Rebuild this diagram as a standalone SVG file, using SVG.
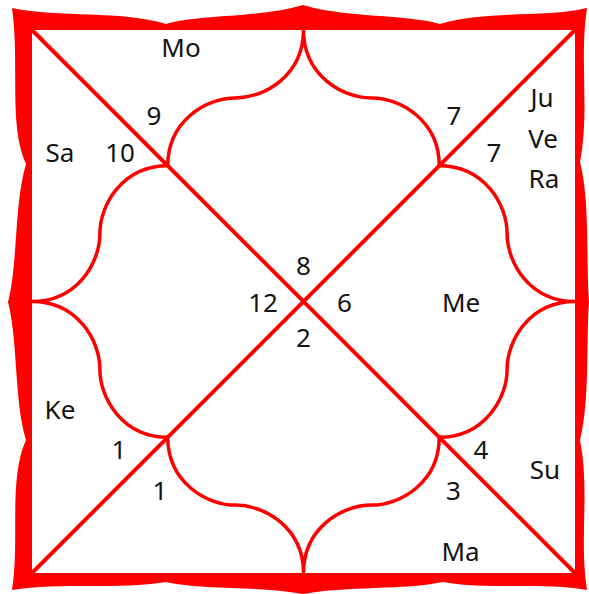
<svg xmlns="http://www.w3.org/2000/svg" xmlns:xlink="http://www.w3.org/1999/xlink" width="589" height="594" viewBox="0 0 589 594">
<style>
.t{font-family:"Noto Sans","Open Sans","DejaVu Sans",sans-serif;font-size:26px;fill:#141414;text-anchor:middle}
.ln{stroke:#ff0000;fill:none;stroke-linecap:round}
</style>
<defs>
<path id="lobe" d="M167.75,165.75 C167.75,121 206.2,97.9 235.6,97.9 C265,97.9 303.5,75 303.5,30 C303.5,75 342,97.9 371.4,97.9 C400.8,97.9 439.25,121 439.25,165.75"/>
</defs>
<rect width="589" height="594" fill="#ffffff"/>
<g id="frame">
<path fill="#ff0000" fill-rule="evenodd" d="M12,8 C60,18 120,10 166,24 C200,14 260,18 303,5 C346,18 406,14 440,24 C486,10 546,18 587,8 C579,60 590,110 580,162 C590,200 586,260 589,302 C586,344 590,400 580,440 C590,490 579,540 587,590 C546,582 486,590 443,582 C406,590 346,586 303,594 C260,586 200,590 166,582 C120,590 60,582 12,590 C20,540 8,480 26,440 C14,400 18,340 8,302 C18,264 14,204 26,164 C8,124 20,64 12,8 Z M32,30 L575,30 L575,573 L32,573 Z"/>
</g>
<g id="connectors">
<line class="ln" x1="32" y1="30" x2="575" y2="573" stroke-width="4"/>
<line class="ln" x1="575" y1="30" x2="32" y2="573" stroke-width="4"/>
<use xlink:href="#lobe" class="ln" stroke-width="3.5"/>
<use xlink:href="#lobe" class="ln" stroke-width="3.5" transform="rotate(90 303.5 301.5)"/>
<use xlink:href="#lobe" class="ln" stroke-width="3.5" transform="rotate(180 303.5 301.5)"/>
<use xlink:href="#lobe" class="ln" stroke-width="3.5" transform="rotate(270 303.5 301.5)"/>
</g>
<g id="house-top-left"><text class="t" x="181" y="57">Mo</text><text class="t" x="154" y="125">9</text></g>
<g id="house-left-top"><text class="t" x="120" y="162">10</text><text class="t" x="60" y="162">Sa</text></g>
<g id="house-top-right"><text class="t" x="454" y="125">7</text></g>
<g id="house-right-top"><text class="t" x="494" y="162">7</text><text class="t" x="542" y="107">Ju</text><text class="t" x="543" y="148">Ve</text><text class="t" x="544" y="188">Ra</text></g>
<g id="house-top"><text class="t" x="303.5" y="275">8</text></g>
<g id="house-left"><text class="t" x="263" y="312">12</text></g>
<g id="house-right"><text class="t" x="344.5" y="312">6</text><text class="t" x="461" y="312">Me</text></g>
<g id="house-bottom"><text class="t" x="303.5" y="347">2</text></g>
<g id="house-left-bottom"><text class="t" x="60" y="419">Ke</text><text class="t" x="119" y="459">1</text></g>
<g id="house-bottom-left"><text class="t" x="160" y="500">1</text></g>
<g id="house-right-bottom"><text class="t" x="481" y="459">4</text><text class="t" x="545" y="479">Su</text></g>
<g id="house-bottom-right"><text class="t" x="453.5" y="500">3</text><text class="t" x="460.5" y="561">Ma</text></g>
</svg>
